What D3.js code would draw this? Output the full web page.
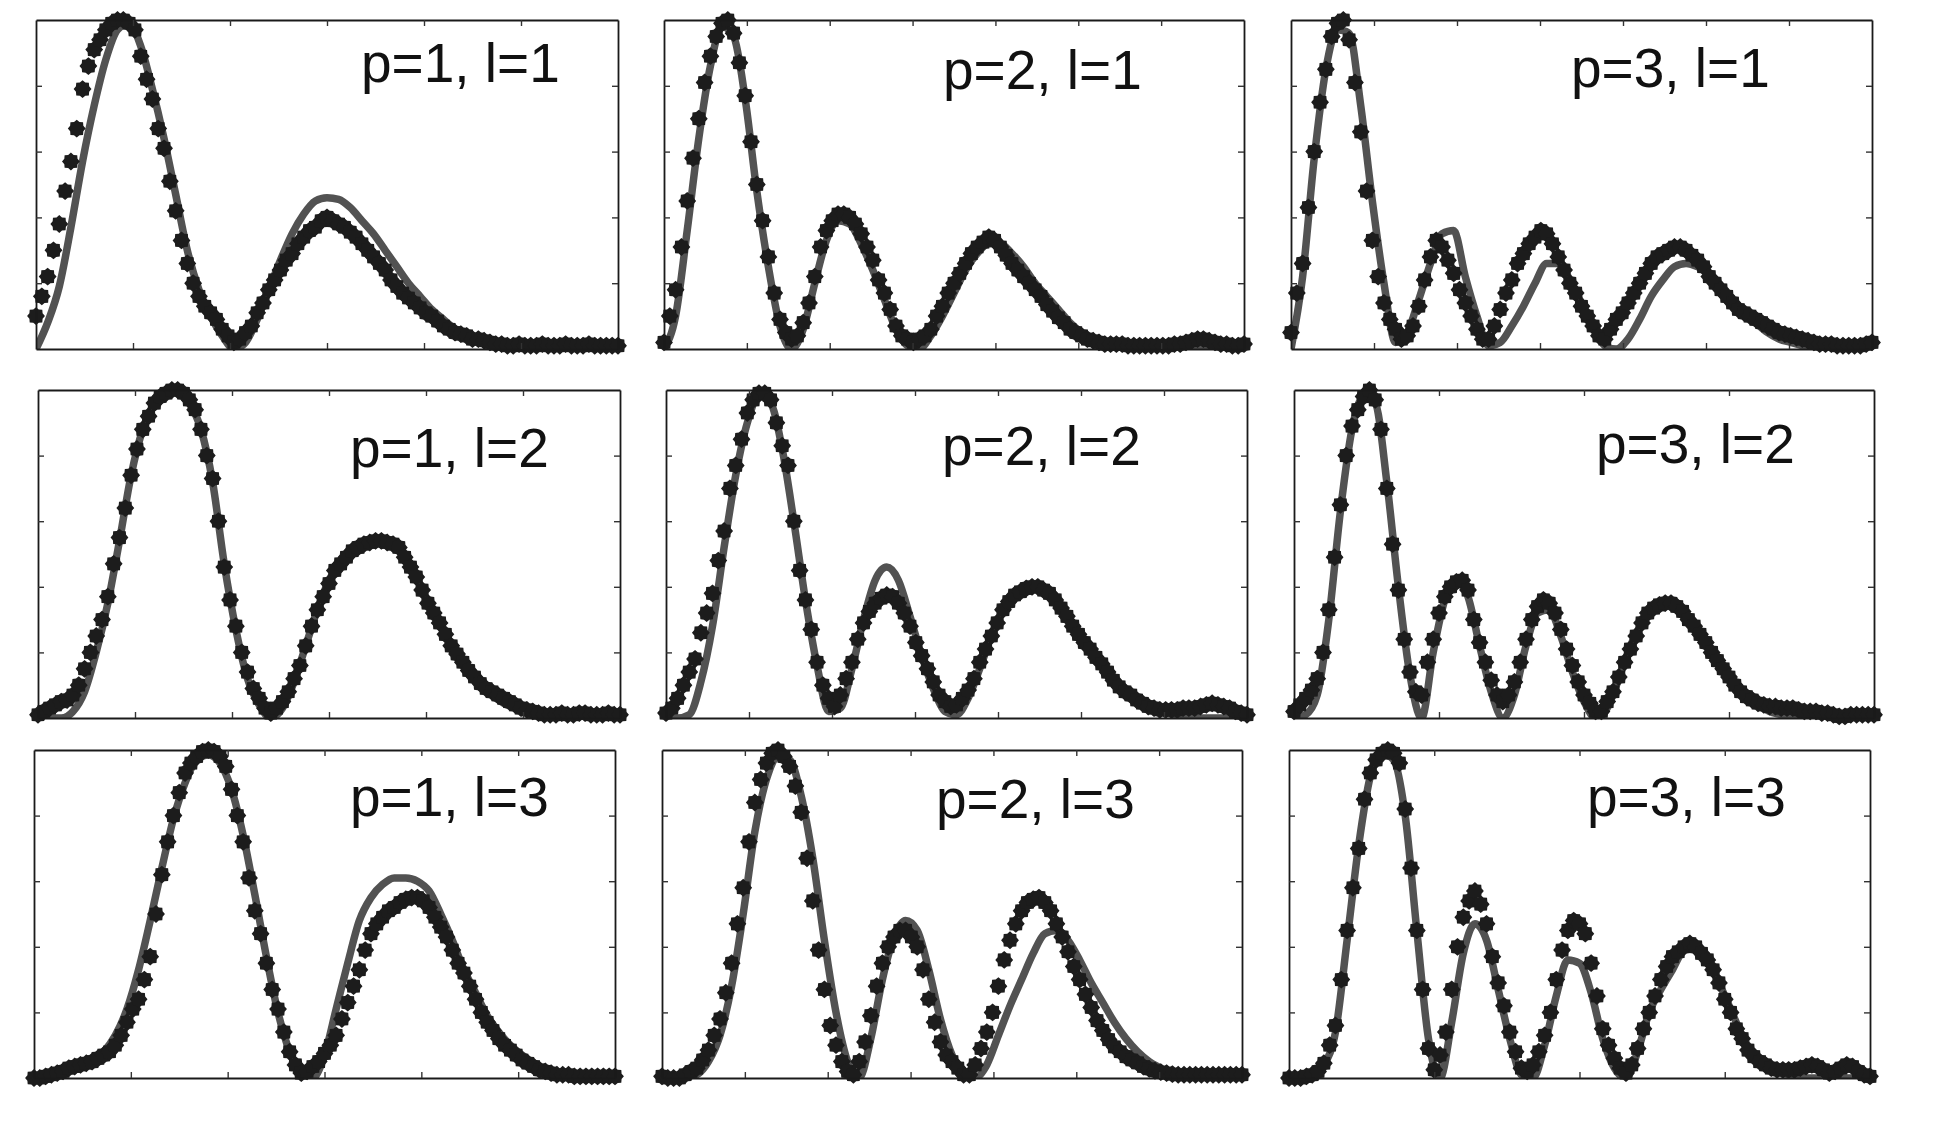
<!DOCTYPE html>
<html>
<head>
<meta charset="utf-8">
<script src="https://cdn.jsdelivr.net/npm/d3@7"></script>
<style>
  body { margin: 0; background: #fff; }
</style>
</head>
<body>
<div id="chart"></div>
<script>
"use strict";

// labels of the 9 subplots, row by row
var panelLabels = ["p=1, l=1", "p=2, l=1", "p=3, l=1",
                   "p=1, l=2", "p=2, l=2", "p=3, l=2",
                   "p=1, l=3", "p=2, l=3", "p=3, l=3"];

// number of x tick intervals in each subplot (no tick labels)
var xDivisions = [6, 7, 7, 6, 7, 4, 6, 7, 4];
var yDivisions = 5;

// measured profiles (stars): 101 samples across the radius, % of the peak
var measured_p1l1 = [10,16,22,30,38,48,57,67,79,86, 91,94,97,99,100,100,99,97,89,82,
  76,67,61,51,42,33,26,20,16,13, 11,9,6,4,2,3,5,7,11,14, 18,21,24,27,29,32,34,36,37,39,
  40,39,38,37,35.5,34,32,30,28,26, 24,21,19,17,15.5,14,12.5,11,10,8.5, 7,6,5,4.5,4,3,3,2.5,2,1.5,
  1.5,1,1,1.5,1,1,1,1.5,1,1, 1,1.5,1,1,1,1.5,1,1,1,1, 1];
var measured_p2l1 = [2,10,18,31,45,58,70,81,89,95, 99,100,96,87,77,63,50,39,28,17,
  9,5,3,4,8,14,22,31,36,39, 41,41,40,38,35,31,27,21,17,12, 7,4,3,2,3,4,6,10,13,17,
  20,23,26,29,31,32.5,34,33,31,28.5, 26,24,22,20,18,16,13.5,11.5,9.5,8, 6,5,4,3,2.5,2,1.5,1.5,1.5,1.5,
  1,1,1,1,1,1,1,1,1.5,1.5, 2,2.5,3,3,2.5,2,1.5,1.5,1,1, 1.5];
var measured_p3l1 = [5,17,26,43,60,75,85,95,99,100, 94,81,66,48,33,22,14,9,6,3,
  4,7,13,21,28,33,31,27,23,18, 14,10,6,3,3,7,12,17,21,26, 29,32,34,36,35,32,28,24,20,17,
  13,10,7,4,3,6,9,11,14,17, 20,23,26,28,29,30,31,31,30,28.5, 27,25,22,20,18,16,14,12,11,10,
  9,8,7,6,5,4.5,4,3.5,3,2.5, 2,1.5,1.5,1.5,1,1,1,1,1,1.5, 2];
var measured_p1l2 = [1,2,3,4,5,5.5,7,10,15,20, 25,30,37,47,55,64,74,82,88,92,
  96,98,99,100,100,99,97,94,88,80, 73,60,46,36,28,20,14,9,6,3, 1.5,3,5,8,12,16,22,28,33,37,
  41,45,47,49,51,52,53,53.5,54,54, 53.5,53,52,49,46,43,39,35,32,29, 25.5,22,19.5,17,14.5,12.5,10.5,9,8,7,
  6,5,4,3,2.5,2,1.5,1,1,1, 1.5,1,1,1.5,1.5,1,1,1,1.5,1, 1];
var measured_p2l2 = [1.5,3,6,10,14,18,26,32,38,48, 57,70,77,85,93,97,99,99,97,90,
  83,77,60,45,36,27,17,10,6,3.5, 7,12,17,24,29,32.5,35,36.5,37.5,37, 35,32,28,23,19,15,11,7,5,3.5,
  4,6,8.5,12,17,21,25,29,33,35.5, 37.5,38.5,39.5,40,40,39,38,36,33.5,31, 28,25.5,23,21,18.5,16.5,14,11.5,9.5,8,
  7,5.5,4.5,3.5,3,2.5,2.5,2.5,2.5,3, 3,3,3.5,4,4.5,4,3.5,3,2,1.5, 1];
var measured_p3l2 = [2,4,6,8.5,12,20,33,49,65,80, 89,94,98,100,97,88,70,53,39,24,
  14,8,7,17,24,32,37,40,41.5,42, 39,30,23,17,11.5,7,5,7,11,17, 24,30,34,36,35,32,27,21,16,11,
  7,4.5,2,2,5,8,12.5,17,21,25, 29,32,33.5,34.5,35,35,34,32.5,30,28, 25.5,23,20,17.5,15,12.5,10,8,6.5,5.5,
  4.5,4,3.5,3.5,3,3,3,2.5,2,2, 2,1.5,1.5,1,0.5,0.5,1,1,1,1, 1];
var measured_p1l3 = [0,0,0.5,1,1.5,2,3,3.5,4,4.5, 5,6,7,8,10,13,17,21,24,30,
  37,50,62,72,80,87,93,96,98,99.5, 100,99.5,98,95,88,80,72,61,51,44, 35,27,21,14,8,4,1.5,2,3.5,5,
  7.5,10,13,18,23,28,33,39,44,47, 49,51,52,53.5,54.5,55,55,54,52,49, 46,43,39,35,32,28,24,20,17,14.5,
  12,10,8.5,7,5.5,4.5,3.5,2.5,2,1.5, 1,1,1,0.5,0.5,0.5,0.5,0.5,0.5,0.5, 0.5];
var measured_p2l3 = [0.5,0,0,0,1,2,3,5.5,8.5,13, 18,26,35,47,58,72,84,91,96,99,
  100,98,95,89,81,67,54,39,27,16, 10,5,2,1,5,11,19,28,35,40, 43,45,45,43,40,33,24,17,11,7,
  5,3,1,1,4,9,14,20,28,36, 42,47,51,53.5,54.5,55,53.5,51,47,43, 38.5,34,30,25.5,21.5,17.5,14.5,11.7,9.5,8,
  6.5,5.5,4.6,3.5,2.8,2.2,1.8,1.5,1.2,1, 1,1,1,1,1,1,1,1,1,1, 1];
var measured_p3l3 = [0,0,0,0.5,1,2,4.5,10,16,30, 45,58,70,85,93,97,99,100,99,96,
  82,64,45,27,9,2.5,7,14,27,40, 49,54,57,53,47,37,29,22,14,8, 3,2,4,8,13,20,30,39,45,48,
  47,44,35,25,15,10,6,3,1.5,4, 9,15,20,25,30,34,37,38.5,40,41, 40,38,36,33,29,24,20,15,12,8.5,
  6.5,5,4,3,2.5,2.5,2.5,2.5,3,3.5, 4,3.5,2.5,1.5,2,3,4,3.5,2,1, 0.5];

// theory (grey line): 51 samples across the same radius, % of the peak
var theory_p1l1 = [0,8,19,37,57,74,88,97,99,92, 79,64,47,30,18,10,4,0,2,9,
  18,27,35,41,45,46,45.5,43,39,35, 30,25,20,16,12,9,6,4,2.5,1.5, 1,0,0,0,0,0,0,0,0,0, 0];
var theory_p2l1 = [0,10,36,64,86,98,95,76,48,25, 7,0,6,20,33,39,38,32,24,15,
  6,1,0,4,10,17,24,29,32,32, 29,25,20,16,12,8,5,3,1.5,1, 0,0,0,0,0,0,0,0,0,0, 0];
var theory_p3l1 = [0,22,58,85,97,96,74,45,20,2, 5,15,26,35,36,22,10,1,2,7,
  13,20,26,26,21,14,7,1,0,3, 9,16,21,25,26,25,23,19,15,11, 8,5,3,2,1,0,0,0,0,0, 0];
var theory_p1l2 = [0,0,0,2,8,20,35,54,74,88, 96,99.5,99,96,88,72,47,27,12,4,
  0,3,11,22,33,42,48,52,53.5,54, 53.5,51,47,39,32,25,19,14,10,7, 4.5,3,2,1,0,0,0,0,0,0, 0];
var theory_p2l2 = [0,0,1,11,28,52,74,90,98,96, 82,60,36,16,2,3,15,30,42,46,
  42,31,19,9,2,1,6,15,25,33, 38,40,40.5,38,34,28,23,18,13,9, 6,4,2.5,1.5,1,0,0,0,0,0, 0];
var theory_p3l2 = [0,1,7,30,63,88,98,96,72,40, 13,0,20,36,42,37,22,8,0,7,
  22,32,33,25,14,5,0,3,12,22, 29,33.5,35,34,30,25,20,15,10,6, 4,2,1,0,0,0,0,0,0,0, 0];
var theory_p1l3 = [0,0,1,2,3,5,8,13,21,33, 48,64,79,90,97,98.5,96,88,74,56,
  37,20,8,1,0,7,21,35,48,55, 59,61,61,60,57,50,42,33,26,19, 14,10,7,4.5,2.5,1.5,1,0,0,0, 0];
var theory_p2l3 = [0,0,0,1,5,13,28,50,75,91, 98,97,86,67,42,20,5,0,12,30,
  43,48,45,33,18,7,1,0,4,13, 22,30,38,44,45,42,36,29,23,17, 12,8,5,3,1,0,0,0,0,0, 0];
var theory_p3l3 = [0,0,1,4,14,42,71,92,99,97, 80,45,12,0,17,38,47,42,27,12,
  1,0,10,25,36,35,26,12,3,0, 8,20,27,33,39,40,36,29,21,13, 7,4,2,1,0,0,0,0,0,0, 0];

var measured = [measured_p1l1, measured_p2l1, measured_p3l1,
                measured_p1l2, measured_p2l2, measured_p3l2,
                measured_p1l3, measured_p2l3, measured_p3l3];
var theory = [theory_p1l1, theory_p2l1, theory_p3l1,
              theory_p1l2, theory_p2l2, theory_p3l2,
              theory_p1l3, theory_p2l3, theory_p3l3];

// page size and where each subplot box sits (left, right, top, bottom, label anchor)
var width = 1950, height = 1134;
var boxes = [
  {x0: 36,   x1: 618,  y0: 20,  y1: 349,  lx: 361,  ly: 82},
  {x0: 664,  x1: 1244, y0: 20,  y1: 349,  lx: 943,  ly: 89},
  {x0: 1291, x1: 1872, y0: 20,  y1: 349,  lx: 1571, ly: 87},
  {x0: 38,   x1: 620,  y0: 390, y1: 718,  lx: 350,  ly: 467},
  {x0: 666,  x1: 1247, y0: 390, y1: 718,  lx: 942,  ly: 465},
  {x0: 1294, x1: 1874, y0: 390, y1: 718,  lx: 1596, ly: 463},
  {x0: 34,   x1: 615,  y0: 750, y1: 1078, lx: 350,  ly: 816},
  {x0: 662,  x1: 1242, y0: 750, y1: 1078, lx: 936,  ly: 818},
  {x0: 1289, x1: 1870, y0: 750, y1: 1078, lx: 1587, ly: 816}
];

// star-like blob, like the thick matlab '*' marker
var starMarker = {
  draw: function(context, size) {
    var r = Math.sqrt(size / Math.PI);
    for (var k = 0; k < 16; k++) {
      var a = k * Math.PI / 8, rr = (k % 2) ? r * 0.8 : r;
      if (k === 0) context.moveTo(rr * Math.cos(a), rr * Math.sin(a));
      else context.lineTo(rr * Math.cos(a), rr * Math.sin(a));
    }
    context.closePath();
  }
};

// append the svg object to the body of the page
var svg = d3.select("#chart")
  .append("svg")
    .attr("width", width)
    .attr("height", height)
    .style("background", "#fff");

boxes.forEach(function(b, k) {
  var x = d3.scaleLinear().domain([0, 1]).range([b.x0, b.x1]);
  var y = d3.scaleLinear().domain([0, 100]).range([b.y1, b.y0]);
  var g = svg.append("g");

  // lines are clipped to the box, markers are not
  g.append("clipPath").attr("id", "clip" + k)
    .append("rect")
      .attr("x", b.x0).attr("y", b.y0)
      .attr("width", b.x1 - b.x0).attr("height", b.y1 - b.y0);

  // theory curve
  var nT = theory[k].length;
  var line = d3.line()
    .x(function(d, i) { return x(i / (nT - 1)); })
    .y(function(d) { return y(d); })
    .curve(d3.curveMonotoneX);
  g.append("path")
    .datum(theory[k])
    .attr("clip-path", "url(#clip" + k + ")")
    .attr("fill", "none")
    .attr("stroke", "#525252")
    .attr("stroke-width", 7.5)
    .attr("stroke-linejoin", "round")
    .attr("d", line);

  // measured points
  var nM = measured[k].length;
  g.append("g").selectAll("path")
    .data(measured[k])
    .join("path")
      .attr("transform", function(d, i) {
        return "translate(" + x(i / (nM - 1)) + "," + y(d) + ")";
      })
      .attr("fill", "#1c1c1c")
      .attr("d", d3.symbol().type(starMarker).size(250));

  // box with inward ticks on all four sides
  var nx = xDivisions[k];
  var xt = d3.range(1, nx).map(function(i) { return i / nx; });
  var yt = d3.range(1, yDivisions).map(function(i) { return i * 100 / yDivisions; });
  var axes = [
    {ax: d3.axisBottom(x).tickValues(xt), t: "translate(0," + b.y1 + ")"},
    {ax: d3.axisTop(x).tickValues(xt),    t: "translate(0," + b.y0 + ")"},
    {ax: d3.axisLeft(y).tickValues(yt),   t: "translate(" + b.x0 + ",0)"},
    {ax: d3.axisRight(y).tickValues(yt),  t: "translate(" + b.x1 + ",0)"}
  ];
  axes.forEach(function(a) {
    var ag = g.append("g")
      .attr("transform", a.t)
      .call(a.ax.tickSizeInner(-6).tickSizeOuter(0).tickFormat(""));
    ag.select(".domain").attr("stroke", "#1a1a1a").attr("stroke-width", 1.8);
    ag.selectAll(".tick line").attr("stroke", "#333").attr("stroke-width", 1.4);
  });

  // subplot label
  g.append("text")
    .attr("x", b.lx)
    .attr("y", b.ly)
    .attr("fill", "#111")
    .style("font-family", "'Liberation Sans', Arial, sans-serif")
    .style("font-size", "55px")
    .text(panelLabels[k]);
});
</script>
</body>
</html>
